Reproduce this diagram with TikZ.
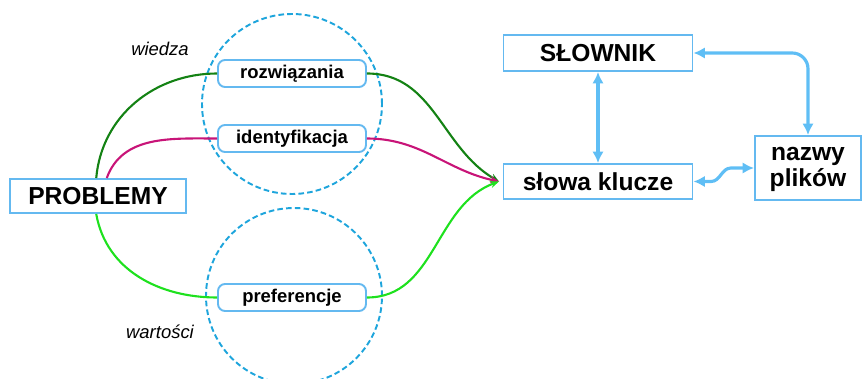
\documentclass[tikz,border=0pt]{standalone}
\usepackage{fontspec}
\setmainfont{Liberation Sans}
\usepackage{xcolor}
\usetikzlibrary{arrows.meta}

\definecolor{boxblue}{RGB}{100,185,240}
\definecolor{ringblue}{RGB}{30,165,220}
\definecolor{arrowblue}{RGB}{95,190,245}
\definecolor{darkgreen}{RGB}{20,130,20}
\definecolor{magent}{RGB}{200,20,120}
\definecolor{lightgreen}{RGB}{30,225,30}

\begin{document}
\begin{tikzpicture}[
bigbox/.style={draw=boxblue,line width=1.1pt,fill=white,inner sep=0pt,
  font=\bfseries\fontsize{14}{16}\selectfont},
smallbox/.style={draw=boxblue,line width=1.1pt,fill=white,rounded corners=4pt,
  inner sep=0pt,minimum width=2.96cm,minimum height=0.54cm,
  font=\bfseries\fontsize{10.5}{12}\selectfont},
ring/.style={draw=ringblue,line width=1.1pt,dash pattern=on 3.2pt off 1.8pt},
tag/.style={font=\itshape\fontsize{10.5}{12}\selectfont},
link/.style={line width=1.2pt},
toward/.style={link,-{Stealth[length=5pt,width=4pt]}},
bluearrow/.style={draw=arrowblue,line width=1.8pt,
  {Latex[length=6.5pt,width=6.5pt]}-{Latex[length=6.5pt,width=6.5pt]}}
]

\useasboundingbox (0,0) rectangle (17.26,7.56);

% circles
\draw[ring] (5.84,5.48) circle (1.8cm);
\draw[ring] (5.88,1.64) circle (1.76cm);

% left part
\node[bigbox,minimum width=3.52cm,minimum height=0.68cm] (prob) at (1.96,3.64) {PROBLEMY};
\node[smallbox] (rozw) at (5.84,6.09) {rozwiązania};
\node[smallbox] (ident) at (5.84,4.79) {identyfikacja};
\node[smallbox] (pref) at (5.84,1.61) {preferencje};
\node[tag] (wiedza) at (3.2,6.58) {wiedza};
\node[tag] (wartosci) at (3.2,0.92) {wartości};

% right part
\node[bigbox,minimum width=3.78cm,minimum height=0.72cm] (slownik) at (11.96,6.5) {SŁOWNIK};
\node[bigbox,minimum width=3.78cm,minimum height=0.70cm] (klucze) at (11.96,3.93) {słowa klucze};
\node[bigbox,minimum width=2.12cm,minimum height=1.28cm] (nazwy) at (16.16,4.2)
  {\raisebox{-2.5pt}{\begin{tabular}{@{}c@{}}nazwy\\[-1pt]plików\end{tabular}}};

% curves
\draw[link,darkgreen] ([xshift=-1pt]prob.north) to[out=85,in=180] (rozw.west);
\draw[link,magent] ([xshift=5pt]prob.north) to[out=70,in=180] (ident.west);
\draw[link,lightgreen] ([xshift=-1pt]prob.south) to[out=-80,in=180] (pref.west);
\draw[toward,darkgreen] (rozw.east) to[out=0,in=150] ([xshift=-2pt]klucze.west);
\draw[toward,magent] (ident.east) to[out=0,in=168] ([xshift=-2pt]klucze.west);
\draw[toward,lightgreen] (pref.east) to[out=0,in=200] ([xshift=-2pt]klucze.west);

% blue arrows
\draw[bluearrow] (slownik.south) -- (klucze.north);
\draw[bluearrow,rounded corners=9pt] (slownik.east) -| (nazwy.north);
\draw[bluearrow] (klucze.east) -- ++(0.35,0) to[out=0,in=180] ++(0.4,0.27) -- (nazwy.west);

\end{tikzpicture}
\end{document}
